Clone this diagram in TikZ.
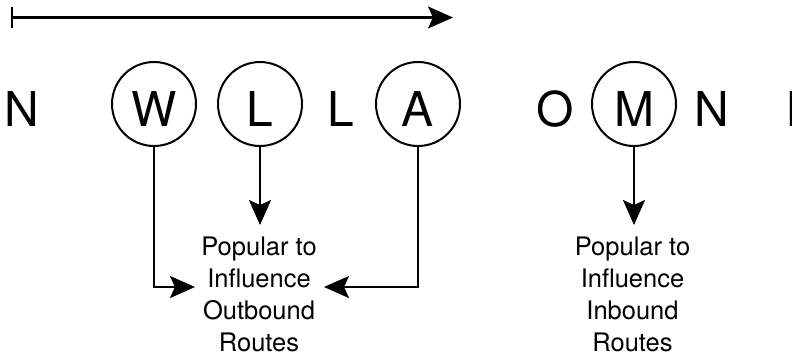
\documentclass[tikz,border=0pt]{standalone}
\usepackage{fontspec}
\setmainfont{TeX Gyre Heros}
\usetikzlibrary{arrows.meta}
\begin{document}
\begin{tikzpicture}[x=1pt,y=-1pt,
  circ/.style={draw,circle,line width=2pt,minimum size=84pt,inner sep=0pt,
    text height=44pt,text depth=0pt,font=\fontsize{48}{48}\selectfont},
  letter/.style={inner sep=0pt,anchor=base,font=\fontsize{48}{48}\selectfont},
  txt/.style={inner sep=0pt,anchor=north,align=center,font=\fontsize{25.5}{32}\selectfont},
  conn/.style={line width=2.2pt,-{Stealth[length=25pt,width=22pt,inset=5pt]}}]
\useasboundingbox (0,0) rectangle (792,357);
% timeline
\coordinate (ts) at (10.7,17.5);
\coordinate (te) at (453,17.5);
\draw[line width=2.2pt,{Bar[width=21pt]}-{Stealth[length=25pt,width=22pt,inset=5pt]}] (ts) -- (te);
% letters
\node[letter] (n1) at (22,126) {N};
\node[circ] (W) at (154,104) {W};
\node[circ] (L) at (260,104) {L};
\node[letter] (l2) at (341,126) {L};
\node[circ] (A) at (418,104) {A};
\node[letter] (o1) at (555,126) {O};
\node[circ] (M) at (634,104) {M};
\node[letter] (n2) at (712,126) {N};
\node[letter,anchor=base west] (i1) at (785.6,126) {I};
% texts
\node[txt] (out) at (259,237) {Popular to\\Influence\\Outbound\\Routes};
\node[txt] (in) at (632.5,237) {Popular to\\Influence\\Inbound\\Routes};
% arrow targets
\coordinate (oW) at (195,287);
\coordinate (oL) at (260,225);
\coordinate (oA) at (324,287);
\coordinate (iM) at (634,225);
\draw[conn] (W.south) |- (oW);
\draw[conn] (L.south) -- (oL);
\draw[conn] (A.south) |- (oA);
\draw[conn] (M.south) -- (iM);
\end{tikzpicture}
\end{document}
